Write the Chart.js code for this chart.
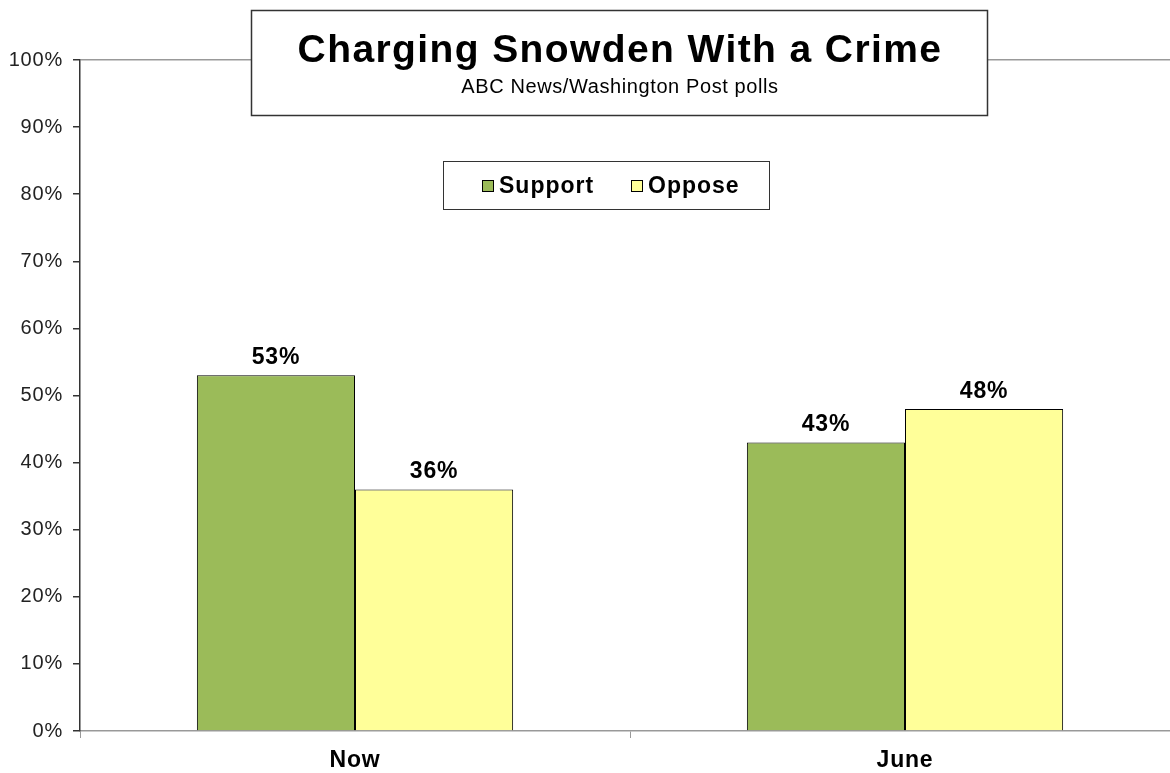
<!DOCTYPE html>
<html>
<head>
<meta charset="utf-8">
<script src="https://cdn.jsdelivr.net/npm/chart.js@4.4.0/dist/chart.umd.min.js"></script>
<style>
  html, body { margin: 0; padding: 0; background: #fff; overflow: hidden; }
  #wrap { width: 1170px; height: 773px; overflow: hidden; }
</style>
</head>
<body>
<div id="wrap"><canvas id="chart" width="1182" height="773"></canvas></div>
<script>
const categories = ['Now', 'June'];
const support = [53, 43];
const oppose = [36, 48];
const seriesNames = ['Support', 'Oppose'];
const yTicks = [0, 10, 20, 30, 40, 50, 60, 70, 80, 90, 100];

const titleText = 'Charging Snowden With a Crime';
const subtitleText = 'ABC News/Washington Post polls';

// the source fonts are a bit wider than Arial, so space the letters out a little
const spacing = {
  id: 'spacing',
  beforeDraw(chart) { chart.ctx.letterSpacing = '0.8px'; }
};

// title box, legend box and value labels
const overlay = {
  id: 'overlay',
  afterDatasetsDraw(chart) {
    const ctx = chart.ctx;
    ctx.save();
    chart.data.datasets.forEach((ds, i) => {
      const meta = chart.getDatasetMeta(i);
      meta.data.forEach((bar, j) => {
        ctx.letterSpacing = '0.8px';
        ctx.font = 'bold 23px Arial, "Liberation Sans"';
        ctx.fillStyle = '#000';
        ctx.textAlign = 'center';
        ctx.textBaseline = 'bottom';
        ctx.fillText(ds.data[j] + '%', bar.x, bar.y - 6);
      });
    });

    // title box
    ctx.fillStyle = '#fff';
    ctx.fillRect(251, 10, 737, 106);
    ctx.strokeStyle = '#333';
    ctx.lineWidth = 1.5;
    ctx.strokeRect(251.5, 10.5, 736, 105);
    ctx.fillStyle = '#000';
    ctx.textAlign = 'center';
    ctx.textBaseline = 'alphabetic';
    ctx.letterSpacing = '1.4px';
    ctx.font = 'bold 39px Arial, "Liberation Sans"';
    ctx.fillText(titleText, 620, 62);
    ctx.letterSpacing = '0.6px';
    ctx.font = '20px Arial, "Liberation Sans"';
    ctx.fillText(subtitleText, 620, 93);

    // legend box
    ctx.fillStyle = '#fff';
    ctx.fillRect(443, 161, 327, 49);
    ctx.strokeStyle = '#333';
    ctx.lineWidth = 1;
    ctx.strokeRect(443.5, 161.5, 326, 48);
    const lx = [482, 631];
    chart.data.datasets.forEach((ds, i) => {
      ctx.fillStyle = ds.backgroundColor;
      ctx.fillRect(lx[i], 180, 12, 12);
      ctx.strokeStyle = '#000';
      ctx.strokeRect(lx[i] + 0.5, 180.5, 11, 11);
      ctx.fillStyle = '#000';
      ctx.letterSpacing = '1px';
      ctx.font = 'bold 23px Arial, "Liberation Sans"';
      ctx.textAlign = 'left';
      ctx.textBaseline = 'middle';
      ctx.fillText(ds.label, lx[i] + 17, 187);
    });
    ctx.restore();
  }
};

new Chart(document.getElementById('chart'), {
  type: 'bar',
  data: {
    labels: categories,
    datasets: [
      { label: seriesNames[0], data: support, backgroundColor: '#9BBB59', borderColor: '#000', borderWidth: 1 },
      { label: seriesNames[1], data: oppose, backgroundColor: '#FFFF99', borderColor: '#000', borderWidth: 1 }
    ]
  },
  options: {
    responsive: false,
    animation: false,
    layout: { padding: { top: 60, right: 2, left: 0, bottom: 0 } },
    datasets: { bar: { categoryPercentage: 0.575, barPercentage: 1 } },
    plugins: { legend: { display: false }, tooltip: { enabled: false } },
    scales: {
      x: {
        offset: true,
        grid: { offset: true, drawOnChartArea: false, tickLength: 7, tickColor: '#999' },
        border: { color: '#999', width: 1.5 },
        ticks: { color: '#000', font: { family: 'Arial', size: 23, weight: 'bold' }, padding: 9 },
        afterFit(scale) { scale.height = 42; }
      },
      y: {
        min: 0,
        max: 100,
        afterBuildTicks(scale) { scale.ticks = yTicks.map(v => ({ value: v })); },
        grid: {
          color: c => (c.tick && c.tick.value === 100 ? '#999' : 'rgba(0,0,0,0)'),
          tickColor: '#333',
          tickLength: 7,
          lineWidth: 1.5
        },
        border: { color: '#333', width: 1.5 },
        ticks: {
          color: '#222',
          font: { family: 'Arial', size: 20 },
          padding: 10,
          callback: v => v + '%'
        },
        afterFit(scale) { scale.width = 80; }
      }
    }
  },
  plugins: [spacing, overlay]
});
</script>
</body>
</html>
